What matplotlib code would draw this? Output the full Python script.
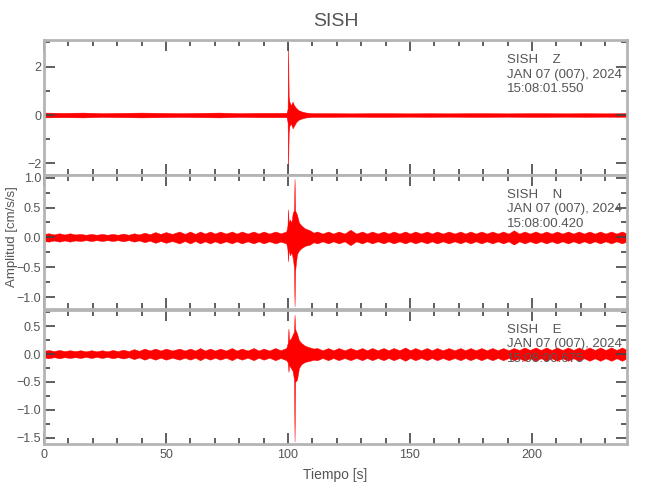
import numpy as np
import matplotlib
matplotlib.use("Agg")
import matplotlib.pyplot as plt
from matplotlib.ticker import MultipleLocator

plt.rcParams["font.family"] = ["Liberation Sans Narrow", "Liberation Sans", "DejaVu Sans"]

STATION = "SISH"
COMPONENTS = ["Z", "N", "E"]
DATE_TEXT = "JAN 07 (007), 2024"
START_TIMES = ["15:08:01.550", "15:08:00.420", "15:08:00.675"]

# background envelope nodes (s) for Z, read as half-width of the noise band
z_bg_t = [0, 8, 16, 24, 32, 40, 48, 56, 64, 72, 80, 88, 95, 99.3,
          110.5, 118, 126, 134, 142, 150, 158, 166, 174, 182, 190, 198,
          206, 214, 222, 230, 239]
z_bg_half = [0.10, 0.09, 0.10, 0.08, 0.09, 0.10, 0.09, 0.08, 0.09, 0.10,
             0.08, 0.09, 0.09, 0.09,
             0.08, 0.08, 0.07, 0.08, 0.08, 0.07, 0.08, 0.07, 0.08, 0.08,
             0.07, 0.08, 0.08, 0.07, 0.08, 0.07, 0.08]

# background nodes for horizontal components (bump / trough alternation)
h_bg_t = [0.0, 2.0, 4.1, 6.3, 8.4, 10.6, 12.8, 15.0, 17.2, 19.4, 21.6, 23.8,
          26.0, 28.1, 30.3, 32.5, 34.7, 36.9, 39.0, 41.2, 43.4, 45.6, 47.8,
          50.0, 52.5, 55.5, 57.7, 59.9, 62.0, 64.0, 66.0, 68.1, 70.1, 72.2,
          74.6, 77.0, 79.0, 81.1, 83.5, 85.9, 88.0, 90.0, 92.4, 94.8, 97.0,
          112.0, 114.2, 116.5, 118.6, 120.8, 123.2, 125.6, 128.0, 130.4,
          132.4, 134.5, 136.8, 139.2, 141.2, 143.3, 145.7, 148.1, 150.1,
          152.2, 154.6, 157.0, 159.0, 161.1, 163.5, 165.9, 168.3, 170.7,
          172.7, 174.8, 177.0, 179.3, 181.5, 183.8, 186.0, 188.2, 190.4,
          192.6, 194.8, 197.0, 199.2, 201.5, 203.7, 205.9, 208.1, 210.3,
          212.5, 214.8, 217.0, 219.2, 221.4, 223.6, 225.8, 228.0, 230.2,
          232.5, 234.7, 236.9, 239.0]
n_bg_half = [0.06, 0.07, 0.05, 0.07, 0.05, 0.07, 0.05, 0.06, 0.045, 0.06, 0.045,
             0.06, 0.045, 0.06, 0.045, 0.065, 0.045, 0.07, 0.05, 0.08, 0.055, 0.09,
             0.06, 0.09, 0.06, 0.10, 0.06, 0.10, 0.06, 0.10, 0.065, 0.10, 0.065,
             0.10, 0.065, 0.10, 0.065, 0.10, 0.065, 0.10, 0.065, 0.10, 0.065, 0.10,
             0.07,
             0.10, 0.065, 0.10, 0.065, 0.10, 0.065, 0.13, 0.065, 0.10, 0.065, 0.10,
             0.065, 0.10, 0.065, 0.10, 0.065, 0.10, 0.065, 0.10, 0.065, 0.10, 0.065,
             0.10, 0.065, 0.10, 0.065, 0.10, 0.065, 0.10, 0.065, 0.10, 0.065, 0.10,
             0.065, 0.10, 0.065, 0.12, 0.065, 0.10, 0.065, 0.10, 0.065, 0.10, 0.065,
             0.10, 0.065, 0.10, 0.065, 0.10, 0.065, 0.10, 0.065, 0.10, 0.065, 0.10,
             0.065, 0.10, 0.065]
e_bg_half = [0.06, 0.075, 0.055, 0.075, 0.055, 0.07, 0.055, 0.07, 0.05, 0.07, 0.05,
             0.07, 0.05, 0.075, 0.055, 0.08, 0.055, 0.09, 0.06, 0.10, 0.065, 0.10,
             0.065, 0.10, 0.065, 0.10, 0.065, 0.10, 0.065, 0.11, 0.065, 0.10, 0.065,
             0.10, 0.065, 0.11, 0.065, 0.10, 0.065, 0.11, 0.065, 0.10, 0.065, 0.11,
             0.07,
             0.11, 0.07, 0.11, 0.07, 0.11, 0.07, 0.11, 0.07, 0.11, 0.07, 0.11,
             0.07, 0.11, 0.07, 0.11, 0.07, 0.12, 0.07, 0.11, 0.07, 0.11, 0.07,
             0.11, 0.07, 0.11, 0.07, 0.11, 0.07, 0.11, 0.07, 0.11, 0.07, 0.11,
             0.07, 0.11, 0.07, 0.11, 0.075, 0.12, 0.075, 0.12, 0.075, 0.12, 0.075,
             0.12, 0.075, 0.12, 0.075, 0.12, 0.075, 0.12, 0.075, 0.12, 0.075, 0.12,
             0.075, 0.12, 0.075]

# event window nodes: time, upper and lower envelope
z_ev_t = [99.4, 99.85, 100.05, 100.3, 100.6, 101.2, 101.9, 102.5, 103.3,
          104.3, 105.8, 107.5, 110.0]
z_ev_hi = [0.09, 0.25, 2.95, 0.80, 0.55, 0.40, 0.55, 0.40, 0.30, 0.20, 0.14, 0.10, 0.08]
z_ev_lo = [-0.09, -0.30, -2.30, -0.75, -0.45, -0.35, -0.55, -0.45, -0.30,
           -0.20, -0.14, -0.10, -0.08]

n_ev_t = [99.3, 99.8, 100.0, 100.3, 100.8, 101.4, 102.0, 102.45, 102.7, 102.95,
          103.7, 104.5, 105.5, 107.0, 109.0, 110.5]
n_ev_hi = [0.10, 0.20, 0.47, 0.25, 0.30, 0.25, 0.42, 0.45, 0.98, 0.45, 0.38,
           0.25, 0.20, 0.15, 0.12, 0.08]
n_ev_lo = [-0.10, -0.20, -0.40, -0.20, -0.30, -0.25, -0.35, -0.50, -1.15, -0.55,
           -0.28, -0.22, -0.18, -0.14, -0.12, -0.08]

e_ev_t = [99.3, 99.9, 100.2, 100.5, 101.2, 101.9, 102.45, 102.7, 102.95, 103.7,
          104.5, 105.5, 107.0, 109.0, 110.5]
e_ev_hi = [0.11, 0.20, 0.46, 0.25, 0.28, 0.35, 0.40, 0.71, 0.45, 0.37, 0.25,
           0.20, 0.15, 0.12, 0.10]
e_ev_lo = [-0.11, -0.15, -0.32, -0.20, -0.25, -0.30, -0.45, -1.57, -0.50, -0.46,
           -0.25, -0.18, -0.14, -0.12, -0.10]

YLIMS = [(-2.46, 3.1), (-1.2, 1.05), (-1.62, 0.8)]
Y_MAJOR = [2, 0.5, 0.5]
Y_MINOR = [1, 0.25, 0.25]
Y_FMT = ["{:.0f}", "{:.1f}", "{:.1f}"]

RED = "#ff0000"
FRAME = "#b4b4b4"
TXT = "#555555"


def envelope(bg_t, bg_half, ev_t, ev_hi, ev_lo):
    bg_t = np.asarray(bg_t)
    bg_half = np.asarray(bg_half)
    t = np.concatenate([bg_t, ev_t])
    hi = np.concatenate([bg_half, ev_hi])
    lo = np.concatenate([-bg_half, ev_lo])
    order = np.argsort(t)
    return t[order], hi[order], lo[order]


traces = [
    envelope(z_bg_t, z_bg_half, z_ev_t, z_ev_hi, z_ev_lo),
    envelope(h_bg_t, n_bg_half, n_ev_t, n_ev_hi, n_ev_lo),
    envelope(h_bg_t, e_bg_half, e_ev_t, e_ev_hi, e_ev_lo),
]

fig = plt.figure(figsize=(6.5, 5), dpi=100)
left, width = 0.0677, 0.897
bottoms = [0.6508, 0.3814, 0.1114]
height = 0.2694

for i, (t, hi, lo) in enumerate(traces):
    ax = fig.add_axes([left, bottoms[i], width, height])
    ax.fill_between(t, lo, hi, color=RED, lw=0.3, edgecolor=RED)
    ax.set_xlim(0, 239)
    ax.set_ylim(*YLIMS[i])
    ax.xaxis.set_major_locator(MultipleLocator(50))
    ax.xaxis.set_minor_locator(MultipleLocator(10))
    ax.yaxis.set_major_locator(MultipleLocator(Y_MAJOR[i]))
    ax.yaxis.set_minor_locator(MultipleLocator(Y_MINOR[i]))
    fmt = Y_FMT[i]
    ax.yaxis.set_major_formatter(plt.FuncFormatter(
        lambda v, p, f=fmt: f.format(v).replace("-", "\u2212") if abs(v) > 1e-9 else f.format(0)))
    ax.tick_params(which="both", direction="in", top=True, right=True,
                   color="#444444", width=1.2, labelsize=9, labelcolor=TXT)
    ax.tick_params(axis="y", pad=2)
    ax.tick_params(which="major", length=8)
    ax.tick_params(which="minor", length=4.5)
    for s in ax.spines.values():
        s.set_color(FRAME)
        s.set_linewidth(2)
    if i < 2:
        ax.tick_params(labelbottom=False)
    else:
        ax.set_xlabel("Tiempo [s]", fontsize=10, color=TXT, labelpad=5)
    ax.text(0.794, 0.895,
            f"{STATION}    {COMPONENTS[i]}\n{DATE_TEXT}\n{START_TIMES[i]}",
            transform=ax.transAxes, ha="left", va="top", fontsize=9.5,
            color=TXT, linespacing=1.3, zorder=5)
    if i == 0:
        ax.set_title(STATION, fontsize=14, color=TXT, pad=10)

fig.text(0.018, 0.526, "Amplitud [cm/s/s]", rotation=90, ha="center",
         va="center", fontsize=9.5, color=TXT)

fig.savefig("out.png", dpi=100)
